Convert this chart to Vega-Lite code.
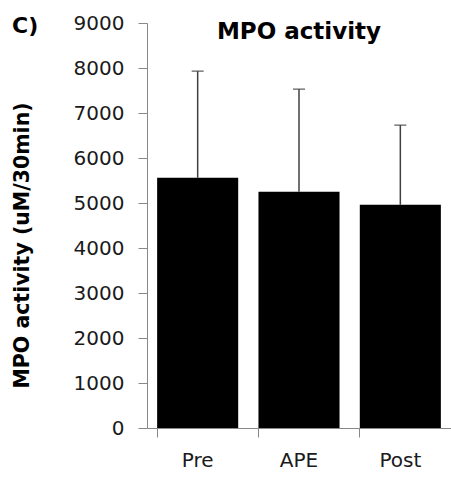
{
  "$schema": "https://vega.github.io/schema/vega-lite/v6.json",
  "width": 304,
  "height": 405,
  "autosize": "none",
  "padding": {"left": 147, "top": 23, "right": 0, "bottom": 52},
  "title": {"text": "C)", "anchor": "start", "frame": "bounds", "font": "DejaVu Sans", "fontSize": 22, "fontWeight": "bold", "color": "#000", "offset": -25},
  "config": {"view": {"stroke": null}, "font": "DejaVu Sans"},
  "datasets": {
    "bars": [
      {"group": "Pre", "mean": 5560, "upper": 7930},
      {"group": "APE", "mean": 5250, "upper": 7530},
      {"group": "Post", "mean": 4960, "upper": 6730}
    ],
    "heading": [{"label": "MPO activity"}]
  },
  "layer": [
    {
      "data": {"name": "bars"},
      "mark": {"type": "bar", "color": "#000"},
      "encoding": {
        "x": {"field": "group", "type": "nominal", "sort": ["Pre", "APE", "Post"], "title": null,
          "scale": {"paddingInner": 0.2, "paddingOuter": 0.1},
          "axis": {"domainColor": "#888", "tickColor": "#888", "tickSize": 9, "bandPosition": 0, "labelFontSize": 20, "labelPadding": 13, "labelAngle": 0, "labelColor": "#1a1a1a", "labelFont": "DejaVu Sans"}},
        "y": {"field": "mean", "type": "quantitative", "title": "MPO activity (uM/30min)",
          "scale": {"domain": [0, 9000], "nice": false},
          "axis": {"values": [0, 1000, 2000, 3000, 4000, 5000, 6000, 7000, 8000, 9000], "format": "d", "grid": false, "domainColor": "#888", "tickColor": "#888", "tickSize": 9, "labelFontSize": 20, "labelPadding": 14, "labelColor": "#1a1a1a", "labelFont": "DejaVu Sans", "titleFont": "DejaVu Sans", "titleFontSize": 20.5, "titleFontWeight": "bold", "titleColor": "#000", "titlePadding": 41, "titleY": 222}}
      }
    },
    {
      "data": {"name": "bars"},
      "mark": {"type": "rule", "color": "#404040", "strokeWidth": 1.5},
      "encoding": {
        "x": {"field": "group", "type": "nominal", "sort": ["Pre", "APE", "Post"], "title": null},
        "y": {"field": "mean", "type": "quantitative", "title": "MPO activity (uM/30min)"},
        "y2": {"field": "upper"}
      }
    },
    {
      "data": {"name": "bars"},
      "mark": {"type": "tick", "color": "#404040", "thickness": 1.5, "size": 12},
      "encoding": {
        "x": {"field": "group", "type": "nominal", "sort": ["Pre", "APE", "Post"], "title": null},
        "y": {"field": "upper", "type": "quantitative", "title": "MPO activity (uM/30min)"}
      }
    },
    {
      "data": {"name": "heading"},
      "mark": {"type": "text", "fontSize": 23, "fontWeight": "bold", "color": "#000", "baseline": "middle", "font": "DejaVu Sans"},
      "encoding": {
        "text": {"field": "label"},
        "x": {"datum": "APE"},
        "y": {"datum": 8790, "type": "quantitative"}
      }
    }
  ]
}
